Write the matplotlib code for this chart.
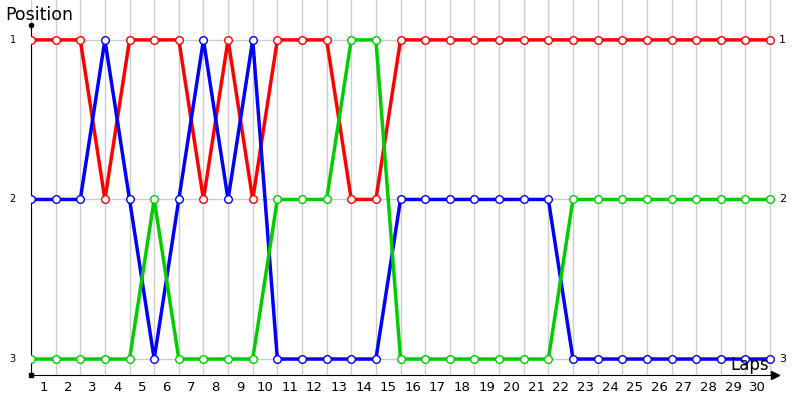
import matplotlib.pyplot as plt

laps = list(range(31))
red = [1, 1, 1, 2, 1, 1, 1, 2, 1, 2, 1, 1, 1, 2, 2, 1,
       1, 1, 1, 1, 1, 1, 1, 1, 1, 1, 1, 1, 1, 1, 1]
blue = [2, 2, 2, 1, 2, 3, 2, 1, 2, 1, 3, 3, 3, 3, 3, 2,
        2, 2, 2, 2, 2, 2, 3, 3, 3, 3, 3, 3, 3, 3, 3]
green = [3, 3, 3, 3, 3, 2, 3, 3, 3, 3, 2, 2, 2, 1, 1, 3,
         3, 3, 3, 3, 3, 3, 2, 2, 2, 2, 2, 2, 2, 2, 2]
lap_labels = [str(i) for i in range(1, 31)]
pos_labels = ['1', '2', '3']

fig = plt.figure(figsize=(8, 4), dpi=100)
ax = fig.add_axes([0.03875, 0.0625, 0.93, 0.9375])

for ys, c in [(red, '#ff0000'), (blue, '#0000ff'), (green, '#00cc00')]:
    ax.plot(laps, ys, color=c, lw=2.5, solid_joinstyle='miter',
            marker='o', ms=5.5, mfc='white', mec=c, mew=1.0, zorder=3)

ax.set_xlim(0, 30.2)
ax.set_ylim(3.1, 0.75)

ax.set_xticks(laps)
ax.set_xticklabels([])
ax.set_xticks([i + 0.5 for i in range(30)], minor=True)
ax.set_xticklabels(lap_labels, minor=True, fontsize=9.5)
ax.set_yticks([1, 2, 3])
ax.set_yticklabels([])
ax.tick_params(which='both', length=0, pad=4)
ax.grid(True, which='major', color='#cccccc', lw=1, zorder=0)

for s in ['top', 'right']:
    ax.spines[s].set_visible(False)
ax.spines['left'].set_bounds(0.906, 3.1)
ax.spines['bottom'].set_bounds(0, 30.2)

# axis ends
ax.plot([0], [0.906], marker='o', ms=3, color='black', clip_on=False)
ax.plot([0], [3.1], marker='s', ms=2.5, color='black', clip_on=False)
ax.plot([30.2], [3.1], marker='>', ms=6, color='black', clip_on=False)

for i, lab in enumerate(pos_labels):
    ax.text(-0.75, i + 1, lab, fontsize=7, ha='center', va='center')
    ax.text(30.35, i + 1, lab, fontsize=8, ha='left', va='center')

ax.text(-1.05, 0.845, 'Position', fontsize=12.5, ha='left', va='center', clip_on=False)
ax.text(29.95, 3.035, 'Laps', fontsize=12, ha='right', va='center')

fig.savefig('out.png', dpi=100)
